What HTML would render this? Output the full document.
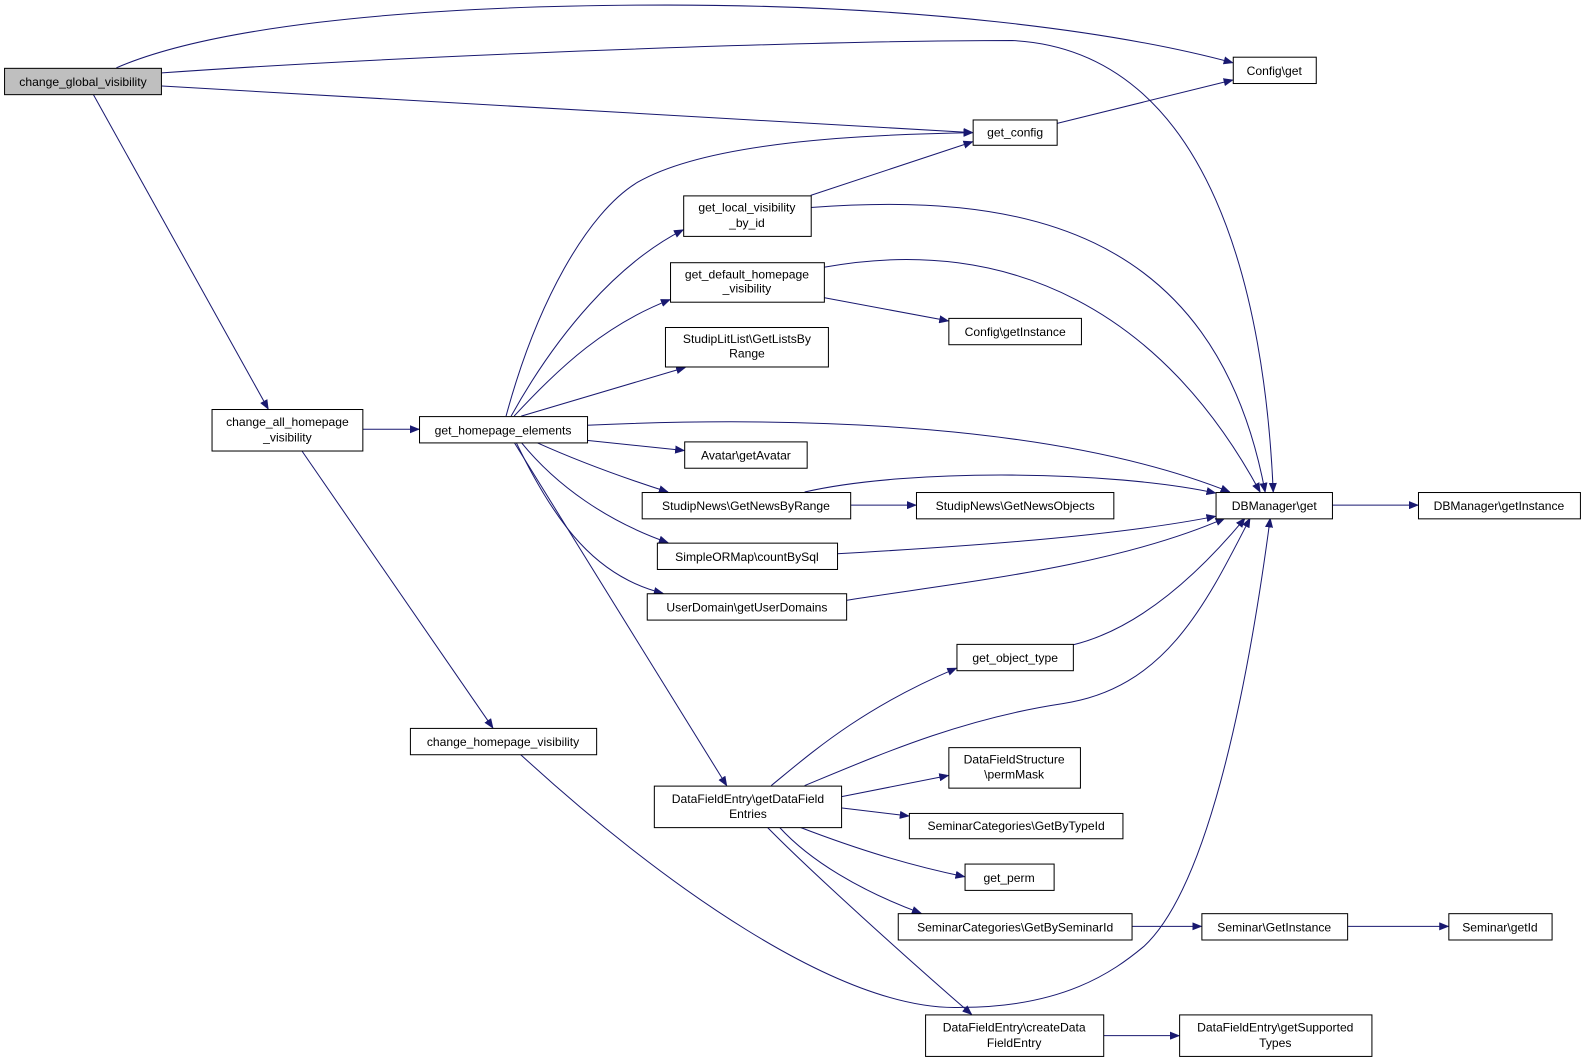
<!DOCTYPE html>
<html><head><meta charset="utf-8"><style>
html,body{margin:0;padding:0;background:#fff;}
svg{display:block;}
svg text{font-family:"Liberation Sans",sans-serif;font-size:12px;fill:#000;}
</style></head><body>
<svg width="1587" height="1063" viewBox="0 0 1568 1050" preserveAspectRatio="none" xmlns="http://www.w3.org/2000/svg">
<defs><marker id="a" markerWidth="10" markerHeight="8" refX="9" refY="4" orient="auto" markerUnits="userSpaceOnUse"><path d="M0,0 L10,4 L0,8 z" fill="#191970"/></marker></defs>
<g fill="none" stroke="#191970" stroke-width="1" marker-end="url(#a)">
<path d="M115,67 C200,30 380,5 660,5 C900,5 1100,30 1218,62"/>
<path d="M160,72 C400,55 800,40 1000,40 C1200,50 1250,300 1258,486"/>
<path d="M160,85 L961,131"/>
<path d="M92,93 L265,404"/>
<path d="M358,424 L414,424"/>
<path d="M298,445 L487,719"/>
<path d="M500,411 C530,300 580,210 630,180 C700,140 850,133 961,131"/>
<path d="M505,411 C550,330 610,260 675,227"/>
<path d="M508,411 C555,360 600,320 662,296"/>
<path d="M515,411 L677,363"/>
<path d="M580,420 C800,410 1050,420 1215,486"/>
<path d="M580,435 L676,445"/>
<path d="M530,437 C570,455 610,470 660,486"/>
<path d="M515,437 C550,480 600,515 660,536"/>
<path d="M510,437 C550,520 590,570 655,586"/>
<path d="M508,437 L718,776"/>
<path d="M801,193 L961,140"/>
<path d="M801,205 C1000,190 1200,220 1250,486"/>
<path d="M814,264 C1000,230 1150,310 1245,486"/>
<path d="M814,294 L937,317"/>
<path d="M840,499 L905,499"/>
<path d="M795,486 C900,462 1100,465 1201,487"/>
<path d="M827,547 C950,540 1100,530 1201,510"/>
<path d="M836,593 C950,575 1100,560 1210,512"/>
<path d="M1316,499 L1401,499"/>
<path d="M1044,122 L1218,79"/>
<path d="M1060,637 C1130,620 1190,560 1230,512"/>
<path d="M762,776 C800,745 850,700 945,660"/>
<path d="M795,776 C870,745 950,710 1050,695 C1150,680 1190,600 1235,512"/>
<path d="M831,787 L937,766"/>
<path d="M831,798 L898,806"/>
<path d="M790,817 C850,840 900,855 953,866"/>
<path d="M770,817 C800,850 850,880 910,902"/>
<path d="M758,817 C800,860 900,950 960,1002"/>
<path d="M514,745 C650,870 830,1000 950,995 C1050,995 1100,960 1130,935 C1190,880 1230,700 1255,512"/>
<path d="M1118,915 L1187,915"/>
<path d="M1331,915 L1431,915"/>
<path d="M1090,1023 L1165,1023"/>
</g>
<g stroke="#000" stroke-width="1" fill="#fff">
<rect x="4.5" y="67.5" width="155" height="26" fill="#bfbfbf"/>
<rect x="1218.5" y="56.5" width="82" height="26"/>
<rect x="961.5" y="118.5" width="83" height="25"/>
<rect x="675.5" y="193.5" width="126" height="40"/>
<rect x="662.5" y="259.5" width="152" height="39"/>
<rect x="657.5" y="323.5" width="161" height="39"/>
<rect x="937.5" y="314.5" width="131" height="26"/>
<rect x="209.5" y="404.5" width="149" height="41"/>
<rect x="414.5" y="411.5" width="166" height="26"/>
<rect x="676.5" y="436.5" width="121" height="26"/>
<rect x="634.5" y="486.5" width="206" height="26"/>
<rect x="905.5" y="486.5" width="195" height="26"/>
<rect x="1201.5" y="486.5" width="115" height="26"/>
<rect x="1401.5" y="486.5" width="160" height="26"/>
<rect x="649.5" y="536.5" width="178" height="26"/>
<rect x="639.5" y="586.5" width="197" height="26"/>
<rect x="945.5" y="636.5" width="115" height="26"/>
<rect x="405.5" y="719.5" width="184" height="26"/>
<rect x="937.5" y="738.5" width="130" height="40"/>
<rect x="646.5" y="776.5" width="185" height="41"/>
<rect x="898.5" y="803.5" width="211" height="25"/>
<rect x="953.5" y="853.5" width="88" height="26"/>
<rect x="887.5" y="902.5" width="231" height="26"/>
<rect x="1187.5" y="902.5" width="144" height="26"/>
<rect x="1431.5" y="902.5" width="102" height="26"/>
<rect x="914.5" y="1002.5" width="176" height="41"/>
<rect x="1165.5" y="1002.5" width="190" height="41"/>
</g>
<g text-anchor="middle">
<text x="82" y="85">change_global_visibility</text>
<text x="1259" y="74">Config\get</text>
<text x="1003" y="135">get_config</text>
<text x="738" y="209">get_local_visibility</text><text x="738" y="224">_by_id</text>
<text x="738" y="275">get_default_homepage</text><text x="738" y="289">_visibility</text>
<text x="738" y="339">StudipLitList\GetListsBy</text><text x="738" y="353">Range</text>
<text x="1003" y="332">Config\getInstance</text>
<text x="284" y="421">change_all_homepage</text><text x="284" y="436">_visibility</text>
<text x="497" y="429">get_homepage_elements</text>
<text x="737" y="454">Avatar\getAvatar</text>
<text x="737" y="504">StudipNews\GetNewsByRange</text>
<text x="1003" y="504">StudipNews\GetNewsObjects</text>
<text x="1259" y="504">DBManager\get</text>
<text x="1481" y="504">DBManager\getInstance</text>
<text x="738" y="554">SimpleORMap\countBySql</text>
<text x="738" y="604">UserDomain\getUserDomains</text>
<text x="1003" y="654">get_object_type</text>
<text x="497" y="737">change_homepage_visibility</text>
<text x="1002" y="754">DataFieldStructure</text><text x="1002" y="769">\permMask</text>
<text x="739" y="793">DataFieldEntry\getDataField</text><text x="739" y="808">Entries</text>
<text x="1004" y="820">SeminarCategories\GetByTypeId</text>
<text x="997" y="871">get_perm</text>
<text x="1003" y="920">SeminarCategories\GetBySeminarId</text>
<text x="1259" y="920">Seminar\GetInstance</text>
<text x="1482" y="920">Seminar\getId</text>
<text x="1002" y="1019">DataFieldEntry\createData</text><text x="1002" y="1034">FieldEntry</text>
<text x="1260" y="1019">DataFieldEntry\getSupported</text><text x="1260" y="1034">Types</text>
</g>
</svg>
</body></html>
